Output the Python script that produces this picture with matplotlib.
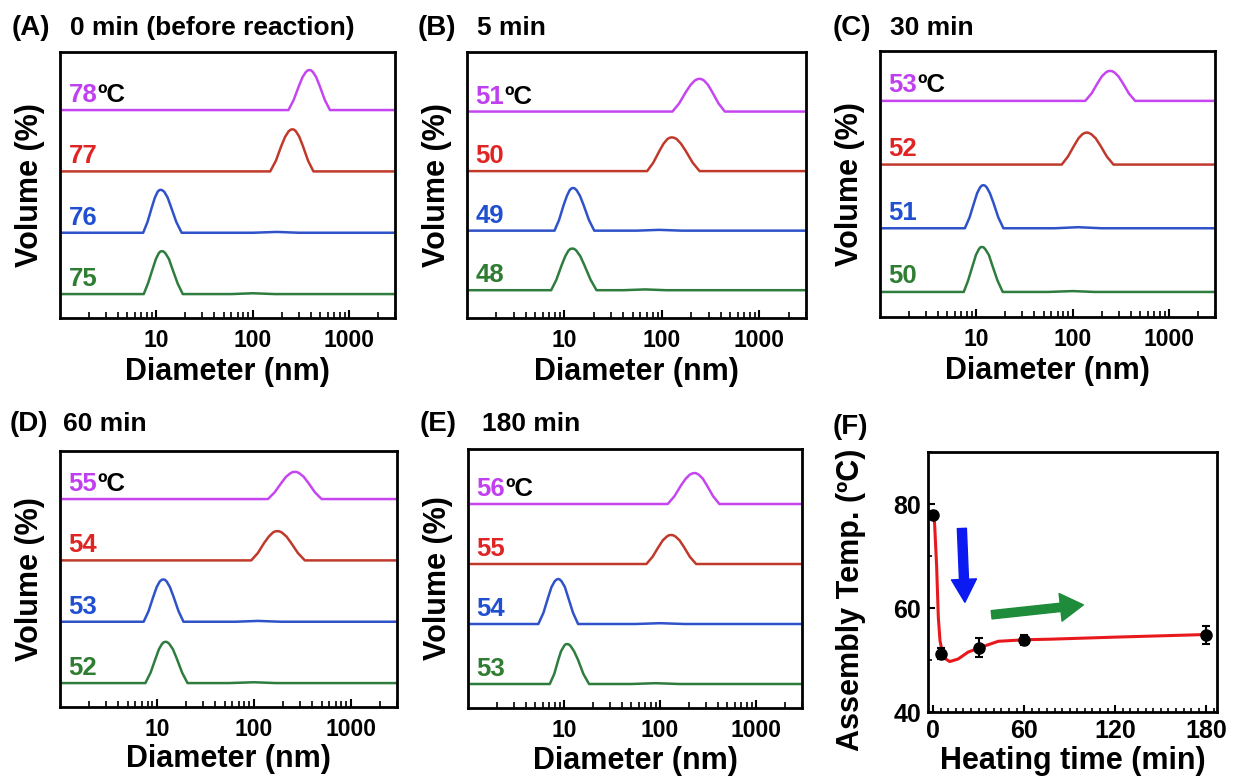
import matplotlib
matplotlib.use("Agg")
import matplotlib.pyplot as plt
from matplotlib.ticker import MultipleLocator, NullFormatter

plt.rcParams['font.family'] = ['Liberation Sans', 'DejaVu Sans']
plt.rcParams['font.weight'] = 'bold'

# DLS volume distributions, curves listed bottom -> top (green, blue, red, purple)
dA = [[1, 7.4, 8.2, 9.2, 9.9, 10.6, 11.0, 11.4, 11.9, 12.4, 13.5, 14.6, 16.6, 18.8, 60, 100, 170, 3000],
      [1, 7.3, 8.1, 9.0, 9.66, 10.3, 10.7, 11.1, 11.5, 12.1, 13.1, 14.2, 16.1, 18.3, 100, 178, 300, 3000],
      [1, 152, 174, 198, 217, 236, 248, 258, 269, 281, 305, 332, 376, 427, 3000],
      [1, 235, 266, 302, 329, 356, 373, 388, 404, 422, 456, 496, 561, 634, 3000]]
vA = [[0, 0, 5.3, 12.6, 17.2, 20.0, 20.8, 21, 20.8, 20.0, 17.2, 12.6, 5.3, 0, 0, 0.4, 0, 0],
      [0, 0, 5.3, 12.6, 17.2, 20.0, 20.8, 21, 20.8, 20.0, 17.2, 12.6, 5.3, 0, 0, 0.4, 0, 0],
      [0, 0, 5.2, 12.4, 16.9, 19.6, 20.4, 20.6, 20.4, 19.6, 16.9, 12.4, 5.2, 0, 0],
      [0, 0, 4.9, 11.8, 16.1, 18.6, 19.4, 19.6, 19.4, 18.6, 16.1, 11.8, 4.9, 0, 0]]
tA = [75, 76, 77, 78]

dB = [[1, 7.3, 8.26, 9.35, 10.2, 11.0, 11.5, 12.0, 12.6, 13.2, 14.5, 16.0, 18.5, 21.3, 40, 67, 110, 3000],
      [1, 7.9, 8.8, 9.8, 10.6, 11.3, 11.8, 12.2, 12.7, 13.3, 14.4, 15.7, 17.8, 20.2, 55, 93, 160, 3000],
      [1, 70.5, 81.5, 94.2, 104, 114, 120, 126, 133, 141, 156, 175, 206, 243, 3000],
      [1, 128, 150, 176, 197, 218, 231, 243, 255, 269, 296, 327, 380, 441, 3000]]
vB = [[0, 0, 5.3, 12.6, 17.2, 20.0, 20.8, 21, 20.8, 20.0, 17.2, 12.6, 5.3, 0, 0, 0.4, 0, 0],
      [0, 0, 5.4, 12.9, 17.6, 20.4, 21.3, 21.5, 21.3, 20.4, 17.6, 12.9, 5.4, 0, 0, 0.4, 0, 0],
      [0, 0, 4.3, 10.2, 13.9, 16.2, 16.8, 17, 16.8, 16.2, 13.9, 10.2, 4.3, 0, 0],
      [0, 0, 4.1, 9.9, 13.5, 15.7, 16.3, 16.5, 16.3, 15.7, 13.5, 9.9, 4.1, 0, 0]]
tB = [48, 49, 50, 51]

dC = [[1, 7.4, 8.2, 9.2, 9.9, 10.6, 11.0, 11.4, 11.9, 12.4, 13.5, 14.6, 16.6, 18.8, 55, 100, 170, 3000],
      [1, 7.6, 8.5, 9.5, 10.2, 10.95, 11.4, 11.8, 12.3, 12.8, 13.8, 15.0, 16.9, 19.1, 65, 114, 200, 3000],
      [1, 77, 89.3, 104, 115, 126, 133, 140, 147, 156, 173, 193, 226, 265, 3000],
      [1, 135, 157, 182, 201, 221, 233, 245, 257, 271, 298, 330, 383, 445, 3000]]
vC = [[0, 0, 5.3, 12.7, 17.4, 20.1, 21.0, 21.2, 21.0, 20.1, 17.4, 12.7, 5.3, 0, 0, 0.4, 0, 0],
      [0, 0, 5.1, 12.2, 16.6, 19.3, 20.1, 20.3, 20.1, 19.3, 16.6, 12.2, 5.1, 0, 0, 0.5, 0, 0],
      [0, 0, 3.8, 9.1, 12.4, 14.3, 14.9, 15.1, 14.9, 14.3, 12.4, 9.1, 3.8, 0, 0],
      [0, 0, 3.5, 8.5, 11.6, 13.4, 14.0, 14.1, 14.0, 13.4, 11.6, 8.5, 3.5, 0, 0]]
tC = [50, 51, 52, 53]

dD = [[1, 7.6, 8.6, 9.7, 10.5, 11.3, 11.8, 12.3, 12.8, 13.4, 14.6, 16.0, 18.2, 20.7, 55, 100, 170, 3000],
      [1, 7.3, 8.2, 9.2, 9.95, 10.7, 11.2, 11.6, 12.1, 12.6, 13.6, 14.8, 16.7, 18.8, 65, 110, 190, 3000],
      [1, 94, 110, 128, 143, 157, 166, 175, 184, 195, 217, 242, 285, 336, 3000],
      [1, 140, 164, 193, 215, 238, 252, 265, 279, 295, 327, 364, 427, 500, 3000]]
vD = [[0, 0, 5.1, 12.1, 16.6, 19.2, 20.0, 20.2, 20.0, 19.2, 16.6, 12.1, 5.1, 0, 0, 0.4, 0, 0],
      [0, 0, 5.2, 12.4, 17.0, 19.7, 20.5, 20.7, 20.5, 19.7, 17.0, 12.4, 5.2, 0, 0, 0.4, 0, 0],
      [0, 0, 3.6, 8.6, 11.7, 13.6, 14.2, 14.3, 14.2, 13.6, 11.7, 8.6, 3.6, 0, 0],
      [0, 0, 3.3, 8.0, 10.9, 12.6, 13.2, 13.3, 13.2, 12.6, 10.9, 8.0, 3.3, 0, 0]]
tD = [52, 53, 54, 55]

dE = [[1, 7.1, 7.9, 8.7, 9.3, 10.0, 10.35, 10.7, 11.2, 11.7, 12.7, 14.0, 15.9, 18.2, 50, 90, 160, 3000],
      [1, 5.4, 6.1, 6.85, 7.4, 8.0, 8.4, 8.7, 9.0, 9.4, 10.2, 11.0, 12.4, 14.0, 55, 100, 180, 3000],
      [1, 72, 83.4, 96.7, 107, 118, 124, 130, 136, 144, 159, 176, 204, 237, 3000],
      [1, 120, 141, 165, 185, 204, 217, 228, 239, 252, 278, 307, 356, 414, 3000]]
vE = [[0, 0, 5.0, 12.0, 16.4, 19.0, 19.8, 20, 19.8, 19.0, 16.4, 12.0, 5.0, 0, 0, 0.4, 0, 0],
      [0, 0, 5.6, 13.5, 18.5, 21.4, 22.3, 22.5, 22.3, 21.4, 18.5, 13.5, 5.6, 0, 0, 0.4, 0, 0],
      [0, 0, 3.6, 8.7, 11.9, 13.8, 14.4, 14.5, 14.4, 13.8, 11.9, 8.7, 3.6, 0, 0],
      [0, 0, 3.9, 9.3, 12.7, 14.7, 15.3, 15.5, 15.3, 14.7, 12.7, 9.3, 3.9, 0, 0]]
tE = [53, 54, 55, 56]

# panel F: assembly temperature vs heating time
time = [0, 5, 30, 60, 180]
temp = [77.9, 51.2, 52.4, 53.9, 54.8]
err = [0.8, 1.1, 1.8, 1.0, 1.7]
fit_t = [0, 1, 2.4, 3.5, 4.6, 6.8, 11, 16.6, 23, 31, 43, 61, 77, 120, 180]
fit_y = [78.0, 76.5, 67.9, 58.2, 53.7, 50.5, 49.7, 50.2, 51.5, 52.4, 53.6, 53.9, 54.0, 54.4, 54.9]

line_cols = ['#2E7D3E', '#2F52C9', '#C0392B', '#C546F0']
text_cols = ['#2E7D32', '#2050D0', '#E02424', '#C040F0']
offset = 30

fig = plt.figure(figsize=(12.33, 7.78), dpi=100)
W, H = 1233, 778


def box(l, t, r, b):
    return [l / W, 1 - b / H, (r - l) / W, (b - t) / H]


def dls_panel(rect, ds, vs, temps, ylim):
    ax = fig.add_axes(rect)
    for i in range(4):
        ax.plot(ds[i], [v + i * offset for v in vs[i]], color=line_cols[i], lw=1.8)
        t = ax.text(0.025, i * offset + 4, str(temps[i]), color=text_cols[i],
                    fontsize=18.5, fontweight='bold', va='baseline',
                    transform=ax.get_yaxis_transform())
        if i == 3:
            ax.annotate('ºC', xy=(1, 0), xycoords=t, va='bottom', ha='left',
                        fontsize=18.5, fontweight='bold', color='black')
    ax.set_xscale('log')
    ax.set_xlim(1, 3000)
    ax.set_ylim(*ylim)
    ax.set_xticks([10, 100, 1000])
    ax.set_xticklabels(['10', '100', '1000'])
    ax.xaxis.set_minor_formatter(NullFormatter())
    ax.set_yticks([])
    ax.tick_params(axis='x', which='major', direction='in', length=6, width=1.5,
                   pad=8, labelsize=16.5)
    ax.tick_params(axis='x', which='minor', direction='in', length=4, width=1.2)
    for s in ax.spines.values():
        s.set_linewidth(2)
    ax.set_xlabel('Diameter (nm)', fontsize=22, fontweight='bold')
    ax.xaxis.set_label_coords(0.5, -0.145)
    ax.set_ylabel('Volume (%)', fontsize=22, fontweight='bold')
    ax.yaxis.set_label_coords(-0.045, 0.5)
    return ax


dls_panel(box(60, 52, 395, 318), dA, vA, tA, (-11.7, 118.4))
dls_panel(box(467, 52, 806, 318), dB, vB, tB, (-14, 120))
dls_panel(box(880, 51, 1215, 317), dC, vC, tC, (-11.8, 113.5))
dls_panel(box(60, 451, 397, 707), dD, vD, tD, (-11.7, 113.5))
dls_panel(box(468, 449, 802, 708), dE, vE, tE, (-12, 117.5))

axF = fig.add_axes(box(928, 452, 1217, 712))
axF.plot(fit_t, fit_y, color='#E8191C', lw=2.2, zorder=2)
axF.errorbar(time, temp, yerr=err, fmt='o', color='black', ms=8, capsize=3,
             elinewidth=1.5, capthick=1.5, zorder=3)
axF.annotate('', xy=(21, 61.1), xytext=(19, 75.3),
             arrowprops=dict(arrowstyle='simple,head_length=1.65,head_width=1.8,tail_width=0.65',
                             mutation_scale=10, color='#0A1AF0', shrinkA=0, shrinkB=0))
axF.annotate('', xy=(99, 60.6), xytext=(38.6, 58.7),
             arrowprops=dict(arrowstyle='simple,head_length=1.65,head_width=2.0,tail_width=0.6',
                             mutation_scale=10, color='#1E8C3A', shrinkA=0, shrinkB=0))
axF.set_xlim(-3.3, 187)
axF.set_ylim(40, 90)
axF.set_xticks([0, 60, 120, 180])
axF.set_yticks([40, 60, 80])
axF.xaxis.set_minor_locator(MultipleLocator(5))
axF.yaxis.set_minor_locator(MultipleLocator(10))
axF.tick_params(which='major', direction='in', length=5, width=1.5, labelsize=18, pad=5)
axF.tick_params(which='minor', direction='in', length=3, width=1.2)
for s in axF.spines.values():
    s.set_linewidth(2)
axF.set_xlabel('Heating time (min)', fontsize=22, fontweight='bold')
axF.xaxis.set_label_coords(0.5, -0.13)
axF.set_ylabel('Assembly Temp. (ºC)', fontsize=22, fontweight='bold')
axF.yaxis.set_label_coords(-0.215, 0.43)

# panel letters and titles
titles = [('(A)', 12, 28, '0 min (before reaction)', 70),
          ('(B)', 418, 28, '5 min', 477),
          ('(C)', 833, 28, '30 min', 890),
          ('(D)', 10, 424, '60 min', 63),
          ('(E)', 420, 424, '180 min', 482),
          ('(F)', 833, 427, '', 0)]
for lab, x, y, txt, x2 in titles:
    fig.text(x / W, 1 - y / H, lab, fontsize=20, fontweight='bold', va='center', ha='left')
    if txt:
        fig.text(x2 / W, 1 - y / H, txt, fontsize=19, fontweight='bold', va='center', ha='left')

fig.savefig('out.png', dpi=100)
